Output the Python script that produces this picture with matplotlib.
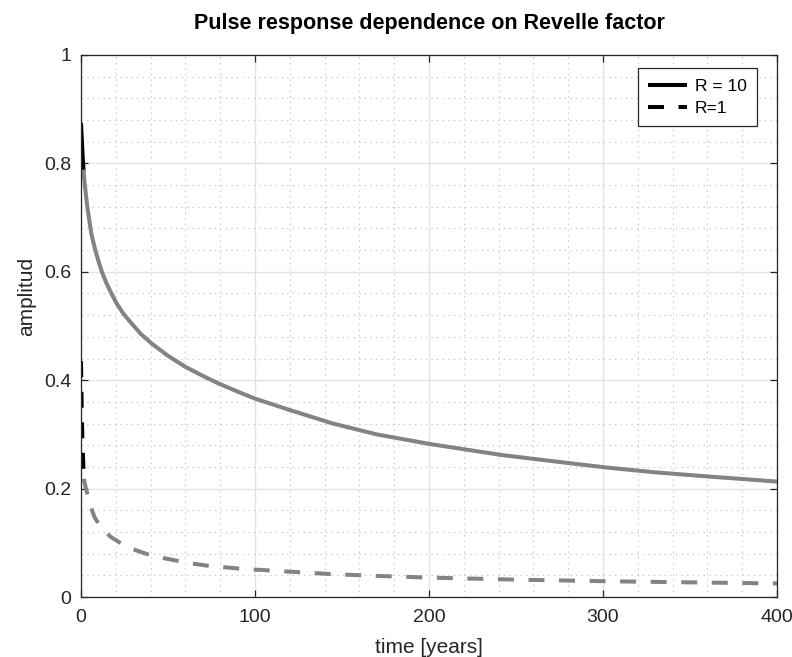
import matplotlib
matplotlib.use("Agg")
import matplotlib.pyplot as plt
from matplotlib.ticker import MultipleLocator, FormatStrFormatter

plt.rcParams['font.family'] = ['Liberation Sans', 'DejaVu Sans']
plt.rcParams['lines.scale_dashes'] = False

# R = 10 : early part (black) and remainder (gray)
t10_early = [0.0, 0.3, 0.7, 1.1, 1.5]
a10_early = [0.875, 0.855, 0.828, 0.805, 0.785]
t10 = [1.5, 2.1, 3.6, 5.9, 7.8, 9.8, 12, 14.6, 17.5, 20.4, 24.5, 29, 34.5, 40.5, 50,
       59.8, 70, 79, 90, 100, 120, 144.8, 170, 201, 241.7, 270, 301.7, 330, 361.8, 400]
a10 = [0.785, 0.763, 0.720, 0.671, 0.645, 0.622, 0.600, 0.579, 0.560, 0.542, 0.522,
       0.505, 0.485, 0.468, 0.445, 0.425, 0.408, 0.394, 0.379, 0.366, 0.345, 0.320,
       0.300, 0.282, 0.262, 0.251, 0.239, 0.230, 0.222, 0.213]

# R = 1 : early part (black) and remainder (gray)
t1_early = [0.0, 0.2, 0.5, 0.9, 1.3, 1.7]
a1_early = [0.435, 0.39, 0.33, 0.28, 0.245, 0.218]
t1 = [1.7, 2, 3, 4, 5, 6, 7, 8, 10, 12.2, 14.5, 17, 21, 24.8, 30, 33.5, 41.9, 50.4,
      59.3, 67.8, 76.7, 85.8, 94.6, 104, 112.6, 130, 145, 170, 197.7, 250, 304, 350, 400]
a1 = [0.218, 0.212, 0.198, 0.186, 0.174, 0.163, 0.154, 0.146, 0.136, 0.128, 0.119,
      0.111, 0.103, 0.095, 0.088, 0.084, 0.075, 0.070, 0.064, 0.060, 0.056, 0.054,
      0.051, 0.050, 0.048, 0.045, 0.042, 0.039, 0.036, 0.032, 0.029, 0.027, 0.025]

labels = ['R = 10', 'R=1']
title = 'Pulse response dependence on Revelle factor'

fig = plt.figure(figsize=(7.92, 6.57), dpi=100)
ax = fig.add_axes([81/792, 1-597/657, (777-81)/792, (597-55)/657])

gray = '#838383'
lw = 2.9
dash = (11.5, 10.5)

l1, = ax.plot(t10_early, a10_early, color='black', lw=lw, solid_capstyle='butt')
l2, = ax.plot(t1_early, a1_early, color='black', lw=lw, dashes=dash, dash_capstyle='butt')
ax.plot(t10, a10, color=gray, lw=lw, solid_joinstyle='round')
ax.plot(t1, a1, color=gray, lw=lw, dashes=dash, dash_capstyle='butt')

ax.set_xlim(0, 400)
ax.set_ylim(0, 1)
ax.xaxis.set_major_locator(MultipleLocator(100))
ax.xaxis.set_minor_locator(MultipleLocator(20))
ax.yaxis.set_major_locator(MultipleLocator(0.2))
ax.yaxis.set_minor_locator(MultipleLocator(0.04))
ax.yaxis.set_major_formatter(FormatStrFormatter('%g'))

ax.grid(True, which='major', color='#e3e3e3', lw=1.0, ls='-')
ax.grid(True, which='minor', color='#c8c8c8', lw=0.8, ls=(0, (1, 3)))
ax.set_axisbelow(True)

for s in ax.spines.values():
    s.set_color('#262626')
    s.set_linewidth(0.9)
ax.tick_params(which='major', direction='in', length=5, width=0.9, top=True, right=True,
               labelsize=14, colors='#262626')
ax.tick_params(axis='x', which='major', pad=9)
ax.tick_params(axis='y', which='major', pad=7)
ax.tick_params(which='minor', length=0, top=True, right=True)

ax.set_xlabel('time [years]', fontsize=15, color='#262626', labelpad=8)
ax.set_ylabel('amplitud', fontsize=15, color='#262626')
ax.yaxis.set_label_coords(-0.0647, 0.554)
ax.set_title(title, fontsize=15.5, fontweight='bold', pad=19)

leg = ax.legend([l1, l2], labels, loc='upper right', bbox_to_anchor=(0.971, 0.976),
                fontsize=12.5, frameon=True, fancybox=False, edgecolor='#262626',
                framealpha=1, handlelength=2.2, borderaxespad=0, handletextpad=0.46,
                borderpad=0.6, labelspacing=0.4)
leg.get_frame().set_linewidth(0.9)

fig.savefig('out.png', dpi=100)
